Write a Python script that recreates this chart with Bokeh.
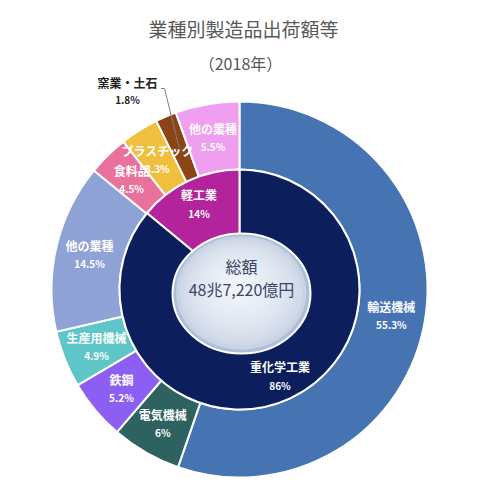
import math
from bokeh.plotting import figure
from bokeh.models import Range1d
from bokeh.core.properties import value
from bokeh.embed import file_html
from bokeh.resources import INLINE

# ---- data ----
title_text = "業種別製造品出荷額等"
subtitle_text = "（2018年）"
center_title = "総額"
center_total = "48兆7,220億円"

inner_names = ["重化学工業", "軽工業"]
inner_values = [86, 14]
inner_labels = ["86%", "14%"]
inner_colors = ["#0c1f5c", "#b3239b"]

outer_names = ["輸送機械", "電気機械", "鉄鋼", "生産用機械", "他の業種",
               "食料品", "プラスチック", "窯業・土石", "他の業種"]
outer_values = [55.3, 6.0, 5.2, 4.9, 14.5, 3.5, 3.3, 1.8, 5.5]
outer_labels = ["55.3%", "6%", "5.2%", "4.9%", "14.5%", "4.5%", "3.3%", "1.8%", "5.5%"]
outer_colors = ["#4674b2", "#2d6260", "#8c5ef2", "#5ec6c8", "#8fa2d6",
                "#e9719b", "#f0bf3e", "#8a4416", "#ef9ef0"]

FONT = "Noto Sans CJK JP"
W = H = 484
CX, CY = 239, 211          # pie centre (data units == pixels, y up)
R_OUT, R_MID = 188, 120
DISC_X, DISC_Y, DISC_W, DISC_H = 241, 207, 138, 120

p = figure(width=W, height=H, output_backend="svg", toolbar_location=None,
           x_range=Range1d(0, 484), y_range=Range1d(16, 500),
           x_axis_type=None, y_axis_type=None, min_border=0)
p.outline_line_color = None
p.grid.visible = False
p.background_fill_color = "white"
p.border_fill_color = "white"


def wedges(values):
    total = float(sum(values))
    starts, ends, mids = [], [], []
    acc = 0.0
    for v in values:
        f0, f1 = acc / total, (acc + v) / total
        starts.append(math.pi / 2 - 2 * math.pi * f1)
        ends.append(math.pi / 2 - 2 * math.pi * f0)
        mids.append(math.pi / 2 - math.pi * (f0 + f1))
        acc += v
    return starts, ends, mids


# outer ring
os_, oe_, om_ = wedges(outer_values)
p.annular_wedge(x=CX, y=CY, inner_radius=R_MID, outer_radius=R_OUT,
                start_angle=os_, end_angle=oe_, fill_color=outer_colors,
                line_color="white", line_width=2)

# inner ring
is_, ie_, im_ = wedges(inner_values)
p.annular_wedge(x=CX, y=CY, inner_radius=0, outer_radius=R_MID,
                start_angle=is_, end_angle=ie_, fill_color=inner_colors,
                line_color="white", line_width=2)

# centre disc with a radial gradient imitation
n = 18
edge = (176, 191, 216)
mid = (243, 246, 251)
for k in range(n):
    t = k / (n - 1)
    s = 1 - 0.95 * t
    c = tuple(int(edge[i] + (mid[i] - edge[i]) * t ** 0.35) for i in range(3))
    col = "#%02x%02x%02x" % c
    p.ellipse(x=DISC_X - 5 * t, y=DISC_Y + 10 * t, width=DISC_W * s, height=DISC_H * s,
              fill_color=col, line_color=None)
p.ellipse(x=DISC_X, y=DISC_Y, width=DISC_W, height=DISC_H, fill_color=None,
          line_color="white", line_width=2)

# centre texts
p.text(x=[DISC_X], y=[DISC_Y + 28], text=[center_title], text_font=value(FONT),
       text_font_size="16px", text_color="#3a4766", text_align="center", text_baseline="middle")
p.text(x=[DISC_X], y=[DISC_Y + 5], text=[center_total], text_font=value(FONT),
       text_font_size="16px", text_color="#3a4766", text_align="center", text_baseline="middle")

# outer labels
R_LAB = 154
nx, ny, px, py = [], [], [], []
onames, olabs = [], []
for i, a in enumerate(om_):
    x = CX + R_LAB * math.cos(a)
    y = CY + R_LAB * math.sin(a)
    if outer_names[i] == "窯業・土石":
        # outside label with leader line
        p.line(x=[x, 164, 160.5], y=[y, 500 - 88, 500 - 88], line_color="#7f7f7f", line_width=1)
        p.text(x=[127], y=[500 - 82], text=[outer_names[i]], text_font=value(FONT),
               text_font_size="12px", text_font_style="bold", text_color="#222222",
               text_align="center", text_baseline="middle")
        p.text(x=[127], y=[500 - 99], text=[outer_labels[i]], text_font=value(FONT),
               text_font_size="10px", text_font_style="bold", text_color="#222222",
               text_align="center", text_baseline="middle")
        continue
    nx.append(x); ny.append(y + 9); px.append(x); py.append(y - 9)
    onames.append(outer_names[i]); olabs.append(outer_labels[i])

p.text(x=nx, y=ny, text=onames, text_font=value(FONT), text_font_size="12px",
       text_font_style="bold", text_color="white", text_align="center", text_baseline="middle")
p.text(x=px, y=py, text=olabs, text_font=value(FONT), text_font_size="10px",
       text_font_style="bold", text_color="white", text_align="center", text_baseline="middle")

# inner labels
R_ILAB = 95
ix = [CX + R_ILAB * math.cos(a) for a in im_]
iy = [CY + R_ILAB * math.sin(a) for a in im_]
p.text(x=ix, y=[v + 9 for v in iy], text=inner_names, text_font=value(FONT), text_font_size="12px",
       text_font_style="bold", text_color="white", text_align="center", text_baseline="middle")
p.text(x=ix, y=[v - 10 for v in iy], text=inner_labels, text_font=value(FONT), text_font_size="10px",
       text_font_style="bold", text_color="white", text_align="center", text_baseline="middle")

# titles
p.text(x=[243], y=[500 - 28], text=[title_text], text_font=value(FONT), text_font_size="19px",
       text_color="#595959", text_align="center", text_baseline="middle")
p.text(x=[240], y=[500 - 62], text=[subtitle_text], text_font=value(FONT), text_font_size="16px",
       text_color="#595959", text_align="center", text_baseline="middle")

open("out.html", "w").write(file_html(p, INLINE))
